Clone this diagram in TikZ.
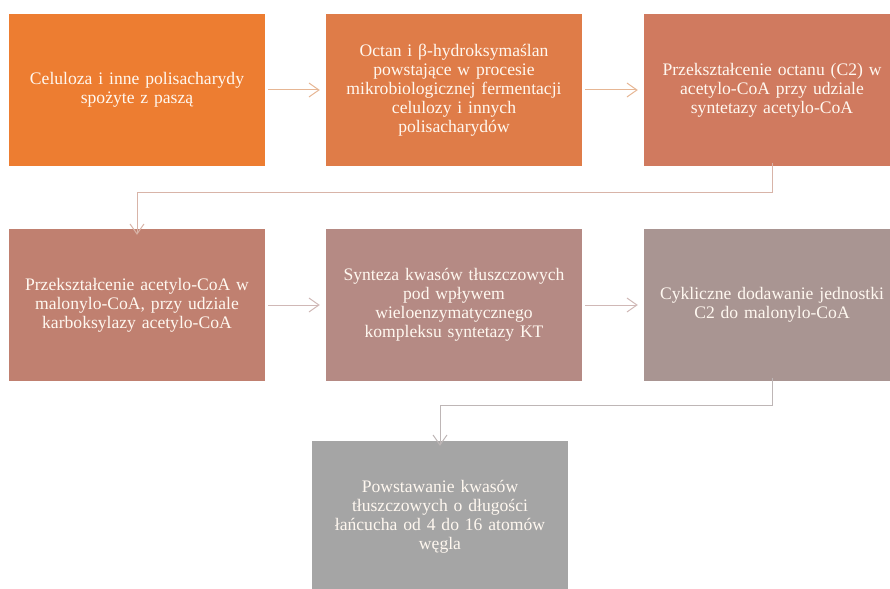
\documentclass[tikz,border=0pt]{standalone}
\usepackage{fontspec}
\setmainfont{Liberation Serif}
\usetikzlibrary{arrows.meta}
\definecolor{cA}{HTML}{ED7D31}
\definecolor{cB}{HTML}{DF7C48}
\definecolor{cC}{HTML}{D07A5F}
\definecolor{cD}{HTML}{C08070}
\definecolor{cE}{HTML}{B58A84}
\definecolor{cF}{HTML}{A99592}
\definecolor{cG}{HTML}{A5A5A5}
\definecolor{txt}{HTML}{FFF8F0}
\definecolor{arA}{HTML}{E6B694}
\definecolor{arB}{HTML}{D8B4A8}
\definecolor{arC}{HTML}{D0B8B6}
\definecolor{arD}{HTML}{BEB6B6}
\tikzset{
  stepbox/.style={minimum width=256pt, minimum height=152pt, inner sep=0pt,
    text width=256pt, align=center, text=txt,
    font=\fontsize{17.6}{19}\selectfont},
  conn/.style={line width=1pt, -{Straight Barb[length=10pt,width=14pt,line width=1pt]}}
}
\begin{document}
\begin{tikzpicture}[x=1pt,y=-1pt]
\useasboundingbox (0,0) rectangle (890,588);
\begin{scope}
\clip (0,0) rectangle (890,588);
\node[stepbox, fill=cA] (b1) at (137,90) {Celuloza i inne polisacharydy\\spożyte z paszą};
\node[stepbox, fill=cB] (b2) at (454,90) {Octan i β-hydroksymaślan\\powstające w procesie\\mikrobiologicznej fermentacji\\celulozy i innych\\polisacharydów};
\node[stepbox, fill=cC] (b3) at (772,90) {Przekształcenie octanu (C2) w\\acetylo-CoA przy udziale\\syntetazy acetylo-CoA};
\node[stepbox, fill=cD] (b4) at (137,305) {Przekształcenie acetylo-CoA w\\malonylo-CoA, przy udziale\\karboksylazy acetylo-CoA};
\node[stepbox, fill=cE] (b5) at (454,305) {Synteza kwasów tłuszczowych\\pod wpływem\\wieloenzymatycznego\\kompleksu syntetazy KT};
\node[stepbox, fill=cF] (b6) at (772,305) {Cykliczne dodawanie jednostki\\C2 do malonylo-CoA};
\node[stepbox, fill=cG] (b7) at (440,517) {Powstawanie kwasów\\tłuszczowych o długości\\łańcucha od 4 do 16 atomów\\węgla};
\end{scope}
\draw[conn, arA] ([xshift=3pt]b1.east) -- ([xshift=-6pt]b2.west);
\draw[conn, arA] ([xshift=3pt]b2.east) -- ([xshift=-6pt]b3.west);
\draw[conn, arC] ([xshift=3pt]b4.east) -- ([xshift=-6pt]b5.west);
\draw[conn, arC] ([xshift=3pt]b5.east) -- ([xshift=-6pt]b6.west);
\draw[conn, arB] ([yshift=3pt]b3.south) -- ++(0,29) -| ([yshift=-6pt]b4.north);
\draw[conn, arD] ([yshift=3pt]b6.south) -- ++(0,27) -| ([yshift=-5pt]b7.north);
\end{tikzpicture}
\end{document}
